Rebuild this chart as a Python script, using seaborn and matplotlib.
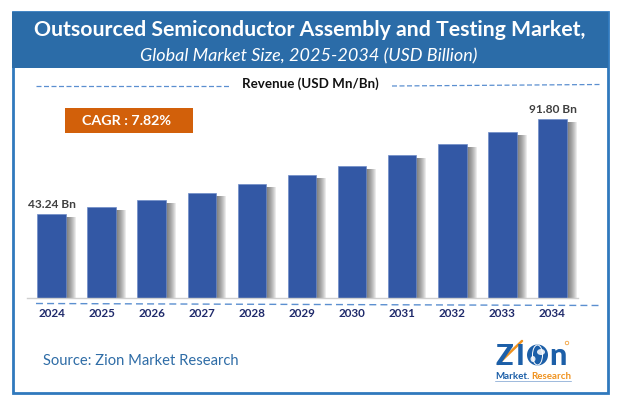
import numpy as np
import pandas as pd
import seaborn as sns
import matplotlib.pyplot as plt
from matplotlib.patches import Rectangle, Circle, Ellipse

years = ["2024", "2025", "2026", "2027", "2028", "2029", "2030", "2031", "2032", "2033", "2034"]
revenue = [43.24, 46.6, 50.3, 53.9, 58.5, 63.1, 67.7, 73.3, 79.0, 85.1, 91.80]
first_label = "43.24 Bn"
last_label = "91.80 Bn"

W, H = 620, 411
BAR_BLUE = "#3358a5"
HEADER = "#2b6ca8"
FRAME = "#3079bd"
DASH = "#5b8fd0"
LOGO_BLUE = "#1c5fa8"
LOGO_ORANGE = "#f0921e"

sns.set_theme(style="white")
plt.rcParams["font.family"] = ["Lato", "DejaVu Sans"]

fig = plt.figure(figsize=(W / 100, H / 100), dpi=100, facecolor="white")

# overlay in pixel coords for the frame, header and the rest of the furniture
deco = fig.add_axes([0, 0, 1, 1], zorder=0)
deco.set_xlim(0, W)
deco.set_ylim(H, 0)
deco.axis("off")
deco.add_patch(Rectangle((12.5, 12.5), 595, 380, fc="white", ec=FRAME, lw=2))
deco.add_patch(Rectangle((12, 12), 596, 56, fc=HEADER, ec="none"))
deco.text(310, 30, "Outsourced Semiconductor Assembly and Testing Market,", color="white",
          fontsize=15.3, fontweight="bold", ha="center", va="center")
deco.text(309, 56, "Global Market Size, 2025-2034 (USD Billion)", color="white",
          fontsize=13, fontstyle="italic", ha="center", va="center")
deco.text(310, 84, "Revenue (USD Mn/Bn)", color="#111111", fontsize=9.6, fontweight="bold",
          ha="center", va="center")
deco.plot([36, 231], [86, 86], color=DASH, lw=0.9, ls=(0, (4, 2)))
deco.plot([392, 600], [86, 84.5], color=DASH, lw=0.9, ls=(0, (4, 2)))
deco.plot([36, 600], [303.5, 305.5], color=DASH, lw=1.0, ls=(0, (5, 3)))

deco.add_patch(Rectangle((65, 108), 128, 25, fc="#d2600a", ec="none"))
deco.text(127, 121, "CAGR : 7.82%", color="white", fontsize=10.3, fontweight="bold",
          ha="center", va="center")
deco.text(43, 361, "Source: Zion Market Research", color="#2e6ca6", fontsize=10.6, ha="left", va="center")

# logo
deco.text(496, 365, "Z", color=LOGO_BLUE, fontsize=21, fontweight="black", ha="left", va="baseline")
deco.text(516, 365, "I", color=LOGO_BLUE, fontsize=21, fontweight="black", ha="left", va="baseline")
deco.add_patch(Circle((537.5, 355), 10.5, fc=LOGO_BLUE, ec="none"))
deco.add_patch(Ellipse((537.5, 355), 10, 20, fc="none", ec="white", lw=0.7))
deco.add_patch(Ellipse((541, 352), 8, 6, fc="white", ec="none", alpha=0.85))
deco.add_patch(Ellipse((533, 359), 5, 6, fc="white", ec="none", alpha=0.85))
deco.text(549, 365, "n", color=LOGO_BLUE, fontsize=22, fontweight="black", ha="left", va="baseline")
deco.plot([498, 522], [364, 341], color=LOGO_ORANGE, lw=1.8)
deco.add_patch(Circle((567, 343), 1.8, fc="none", ec=LOGO_ORANGE, lw=0.5))
deco.text(495, 376, "Market.", color=LOGO_BLUE, fontsize=7.0, fontweight="bold", ha="left", va="center")
deco.text(531, 376, "Research", color=LOGO_ORANGE, fontsize=7.0, fontweight="bold", ha="left", va="center")
deco.plot([495, 571], [381, 381], color="#9db9dc", lw=0.7)

# chart: baseline at y=298, bars spaced 50 px apart
ax = fig.add_axes([26.5 / W, (H - 298) / H, 551 / W, 200 / H], zorder=2)
ax.patch.set_alpha(0)

df = pd.DataFrame({"year": years, "revenue": revenue})
pos = np.arange(len(years))

# soft shadow to the right of each bar
for off in np.linspace(0.20, 0.02, 10):
    ax.bar(pos + off, np.array(revenue) - 1.5, width=0.57, color="#404040", alpha=0.1, lw=0, zorder=1)

sns.barplot(data=df, x="year", y="revenue", color=BAR_BLUE, width=0.57, saturation=1, ax=ax, zorder=2,
            edgecolor="#6f8cc8", linewidth=0.5)

ax.set_xlim(-0.5, 10.5)
ax.set_ylim(0, 200 / 1.95)
ax.set_xlabel("")
ax.set_ylabel("")
ax.set_yticks([])
ax.tick_params(axis="x", length=0, pad=7)
ax.set_xticks(pos)
ax.set_xticklabels(years, color="#1f2a6b", fontsize=8.4, fontweight="bold")
for side in ["top", "left", "right"]:
    ax.spines[side].set_visible(False)
ax.spines["bottom"].set_color("#cfcfcf")
ax.spines["bottom"].set_linewidth(1.0)

ax.text(pos[0], revenue[0] + 2.0, first_label, color="#404040", fontsize=8.6, fontweight="bold",
        ha="center", va="bottom")
ax.text(pos[-1], revenue[-1] + 2.0, last_label, color="#404040", fontsize=8.6, fontweight="bold",
        ha="center", va="bottom")

fig.savefig("out.png", dpi=100)
